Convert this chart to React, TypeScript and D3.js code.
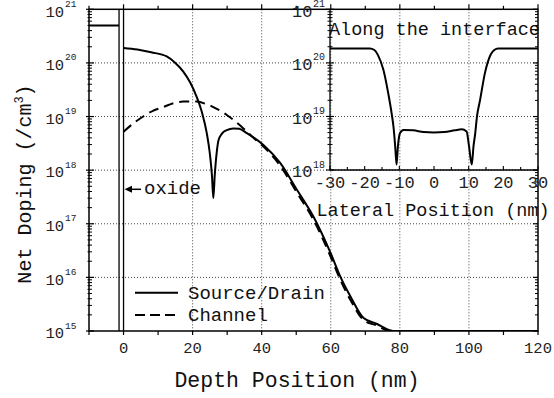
import React from "react";
import * as d3 from "d3";

// ---- Data ----
const depthSD = [0, 4, 8, 12.5, 15, 17.3, 19.3, 21.2, 22.7, 24.1, 25, 25.6, 26, 26.4, 27, 27.5, 28.5, 29.9, 31.8, 33.5, 35.7, 40.5, 45.4, 50.2, 55, 60, 62.8, 65.7, 69.5, 73.4, 76.8, 78, 120];
const dopingSD = [1.9e20, 1.78e20, 1.58e20, 1.32e20, 1.0e20, 6.9e19, 4.3e19, 2.3e19, 1.2e19, 4.9e18, 2.0e18, 7.9e17, 3.0e17, 7.9e17, 2.2e18, 3.6e18, 4.8e18, 5.6e18, 6.0e18, 5.9e18, 4.9e18, 2.95e18, 1.35e18, 4.3e17, 1.35e17, 2.8e16, 1.02e16, 4.4e15, 1.74e15, 1.35e15, 1.05e15, 1e15, 1e15];

const depthCh = [0, 3, 5.7, 8.5, 11.5, 14.5, 17.3, 21.2, 24, 26, 29.9, 34.7, 38, 40.5, 45.4, 50.2, 55, 60, 62.8, 65.7, 69.5, 73.4, 77, 120];
const dopingCh = [5.2e18, 7.6e18, 1.0e19, 1.28e19, 1.5e19, 1.78e19, 1.9e19, 1.9e19, 1.7e19, 1.5e19, 1.07e19, 6.0e18, 3.8e18, 2.75e18, 1.2e18, 3.8e17, 1.18e17, 2.4e16, 8.9e15, 3.8e15, 1.6e15, 1.26e15, 1.0e15, 1.0e15];

const gateDepth = [-10, -1.3];
const gateDoping = [5e20, 5e20];
const oxideEdges = [-1.3, 0];

const lateralPos = [-30, -18.5, -17.2, -16.2, -14.6, -13.2, -12.2, -11.7, -11.2, -10.8, -10.4, -9.8, -8.8, -6, -3, 0, 3, 6, 8, 9.4, 10.1, 10.9, 11.4, 11.9, 12.4, 13.3, 14.7, 16.4, 17.4, 18.5, 30];
const lateralDoping = [1.86e20, 1.86e20, 1.74e20, 1.41e20, 7.4e19, 2.7e19, 1.12e19, 6.5e18, 2.8e18, 1.26e18, 2.8e18, 4.9e18, 5.6e18, 5.5e18, 5.1e18, 5.0e18, 5.1e18, 5.5e18, 5.75e18, 5.25e18, 2.8e18, 1.26e18, 2.8e18, 4.9e18, 1.0e19, 2.04e19, 6.5e19, 1.45e20, 1.74e20, 1.86e20, 1.86e20];

const xTicksMain = [0, 20, 40, 60, 80, 100, 120];
const xMinorMain = [-10, 0, 10, 20, 30, 40, 50, 60, 70, 80, 90, 100, 110, 120];
const yDecadesMain = [15, 16, 17, 18, 19, 20, 21];
const xTicksInset = [-30, -20, -10, 0, 10, 20, 30];
const xMinorInset = [-30, -25, -20, -15, -10, -5, 0, 5, 10, 15, 20, 25, 30];
const yDecadesInset = [18, 19, 20, 21];

const FONT = "'Liberation Mono', 'DejaVu Sans Mono', monospace";

export default function App() {
  const L = 89, R = 538, T = 9.3, B = 331;
  const x = d3.scaleLinear().domain([-10, 120]).range([L, R]);
  const y = d3.scaleLog().domain([1e15, 1e21]).range([B, T]);

  const iL = 330, iR = 538, iT = 9.3, iB = 170;
  const xi = d3.scaleLinear().domain([-30, 30]).range([iL, iR]);
  const yi = d3.scaleLog().domain([1e18, 1e21]).range([iB, iT]);

  const lineMain = d3.line<[number, number]>().x(d => x(d[0])).y(d => y(d[1])).curve(d3.curveMonotoneX);
  const lineIn = d3.line<[number, number]>().x(d => xi(d[0])).y(d => yi(d[1])).curve(d3.curveMonotoneX);

  const sd = depthSD.map((d, i) => [d, dopingSD[i]] as [number, number]);
  const ch = depthCh.map((d, i) => [d, dopingCh[i]] as [number, number]);
  const lat = lateralPos.map((d, i) => [d, lateralDoping[i]] as [number, number]);

  const minorMain: number[] = [];
  for (let e = 15; e < 21; e++) for (let k = 2; k <= 9; k++) minorMain.push(k * Math.pow(10, e));
  const minorIn: number[] = [];
  for (let e = 18; e < 21; e++) for (let k = 2; k <= 9; k++) minorIn.push(k * Math.pow(10, e));

  const grid = "#444";

  return (
    <svg width={554} height={398} style={{ position: "absolute", left: 0, top: 0, background: "#fff" }} fontFamily={FONT}>
      <defs>
        <clipPath id="mainclip"><rect x={L} y={T} width={R - L} height={B - T} /></clipPath>
        <clipPath id="inclip"><rect x={iL} y={iT} width={iR - iL} height={iB - iT} /></clipPath>
      </defs>
      {/* grid */}
      {[20, 40, 60, 80, 100].map(v => (
        <line key={"gx" + v} x1={x(v)} x2={x(v)} y1={T} y2={B} stroke={grid} strokeWidth={1} strokeDasharray="1,2" />
      ))}
      {[16, 17, 18, 19, 20].map(e => (
        <line key={"gy" + e} x1={L} x2={R} y1={y(Math.pow(10, e))} y2={y(Math.pow(10, e))} stroke={grid} strokeWidth={1} strokeDasharray="1,2" />
      ))}

      {/* main curves */}
      <g clipPath="url(#mainclip)">
        <path d={lineMain(sd) || ""} fill="none" stroke="#000" strokeWidth={2} />
        <path d={lineMain(ch) || ""} fill="none" stroke="#000" strokeWidth={2} strokeDasharray="10,6" />
        <line x1={x(gateDepth[0])} x2={x(gateDepth[1])} y1={y(gateDoping[0])} y2={y(gateDoping[1])} stroke="#000" strokeWidth={2} />
      </g>
      {oxideEdges.map((v, i) => (
        <line key={"ox" + i} x1={x(v)} x2={x(v)} y1={T} y2={B} stroke="#000" strokeWidth={1.3} />
      ))}

      {/* main frame */}
      <rect x={L} y={T} width={R - L} height={B - T} fill="none" stroke="#000" strokeWidth={1.5} />

      {/* main ticks */}
      {xMinorMain.map(v => (
        <g key={"tx" + v}>
          <line x1={x(v)} x2={x(v)} y1={B} y2={B + 4} stroke="#000" strokeWidth={1.2} />
          <line x1={x(v)} x2={x(v)} y1={T} y2={T - (v % 20 === 0 ? 5 : 3.5)} stroke="#000" strokeWidth={1.2} />
        </g>
      ))}
      {yDecadesMain.map(e => (
        <g key={"ty" + e}>
          <line x1={L - 3} x2={L + 5} y1={y(Math.pow(10, e))} y2={y(Math.pow(10, e))} stroke="#000" strokeWidth={1.2} />
          <line x1={R - 5} x2={R} y1={y(Math.pow(10, e))} y2={y(Math.pow(10, e))} stroke="#000" strokeWidth={1.2} />
        </g>
      ))}
      {minorMain.map((v, i) => (
        <g key={"tm" + i}>
          <line x1={L - 1.5} x2={L + 3} y1={y(v)} y2={y(v)} stroke="#000" strokeWidth={1} />
          <line x1={R - 3} x2={R} y1={y(v)} y2={y(v)} stroke="#000" strokeWidth={1} />
        </g>
      ))}

      {/* main tick labels */}
      {xTicksMain.map(v => (
        <text key={"lx" + v} x={x(v)} y={353} textAnchor="middle" fontSize={15.5} fill="#222">{v}</text>
      ))}
      {yDecadesMain.map(e => (
        <g key={"ly" + e}>
          <text x={64} y={y(Math.pow(10, e)) + 7.3} textAnchor="end" fontSize={15.5} fill="#222">10</text>
          <text x={65} y={y(Math.pow(10, e)) - 2.5} textAnchor="start" fontSize={9.5} fill="#222">{e}</text>
        </g>
      ))}

      {/* axis titles */}
      <text x={297} y={387} textAnchor="middle" fontSize={21.5} fill="#111">Depth Position (nm)</text>
      <text transform="translate(31,184) rotate(-90)" textAnchor="middle" fontSize={20} fill="#111">
        Net Doping (/cm<tspan dy={-8} fontSize={12}>3</tspan><tspan dy={8}>)</tspan>
      </text>

      {/* oxide annotation */}
      <line x1={130} x2={141} y1={189.3} y2={189.3} stroke="#000" strokeWidth={1.5} />
      <path d="M124.5,189.3 L132,185.8 L132,192.8 Z" fill="#000" />
      <text x={144} y={193.5} fontSize={19} fill="#111">oxide</text>

      {/* legend */}
      <line x1={135} x2={178} y1={292.7} y2={292.7} stroke="#000" strokeWidth={2} />
      <text x={188} y={298.5} fontSize={19} fill="#111">Source/Drain</text>
      <line x1={135} x2={178} y1={315} y2={315} stroke="#000" strokeWidth={2} strokeDasharray="10,5" />
      <text x={188} y={320.5} fontSize={19} fill="#111">Channel</text>

      {/* inset */}
      <g clipPath="url(#inclip)">
        <path d={lineIn(lat) || ""} fill="none" stroke="#000" strokeWidth={2} />
      </g>
      <line x1={iL} x2={iL} y1={iT} y2={iB} stroke="#000" strokeWidth={1.3} />
      <line x1={iL} x2={iR} y1={iB} y2={iB} stroke="#000" strokeWidth={1.3} />
      {yDecadesInset.map(e => (
        <line key={"iy" + e} x1={iL - 4} x2={iL + 4} y1={yi(Math.pow(10, e))} y2={yi(Math.pow(10, e))} stroke="#000" strokeWidth={1.1} />
      ))}
      {minorIn.map((v, i) => (
        <line key={"im" + i} x1={iL - 2.5} x2={iL + 2.5} y1={yi(v)} y2={yi(v)} stroke="#000" strokeWidth={1} />
      ))}
      {xMinorInset.map(v => (
        <line key={"ix" + v} x1={xi(v)} x2={xi(v)} y1={iB} y2={iB - (v % 10 === 0 ? 4 : 3)} stroke="#000" strokeWidth={1.1} />
      ))}
      {xTicksInset.map(v => (
        <text key={"ilx" + v} x={xi(v)} y={188} textAnchor="middle" fontSize={17} fill="#222">{v}</text>
      ))}
      {yDecadesInset.map(e => (
        <g key={"ily" + e}>
          <text x={312.5} y={yi(Math.pow(10, e)) + 7.3} textAnchor="end" fontSize={17} fill="#222">10</text>
          <text x={313} y={yi(Math.pow(10, e)) - 2.5} textAnchor="start" fontSize={10} fill="#222">{e}</text>
        </g>
      ))}
      <text x={433} y={216} textAnchor="middle" fontSize={18.5} fill="#111">Lateral Position (nm)</text>
      <text x={329} y={35} textAnchor="start" fontSize={18.5} fill="#111">Along the interface</text>
    </svg>
  );
}
